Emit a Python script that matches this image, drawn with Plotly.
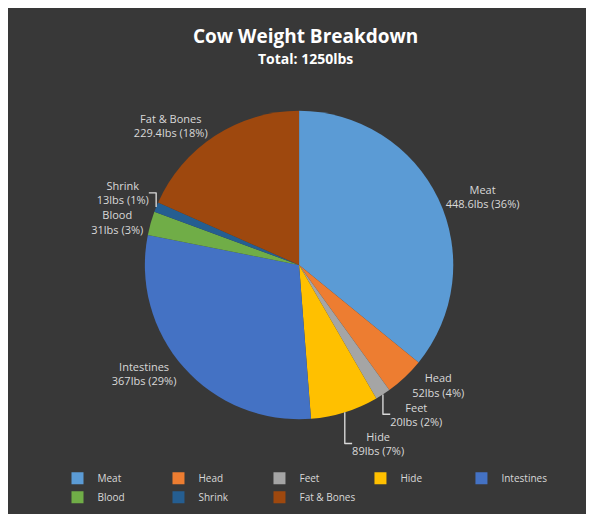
import plotly.graph_objects as go

labels = ["Meat", "Head", "Feet", "Hide", "Intestines", "Blood", "Shrink", "Fat & Bones"]
values = [448.6, 52, 20, 89, 367, 31, 13, 229.4]
weight_text = ["448.6lbs", "52lbs", "20lbs", "89lbs", "367lbs", "31lbs", "13lbs", "229.4lbs"]
percent_text = ["36%", "4%", "2%", "7%", "29%", "3%", "1%", "18%"]
colors = ["#5b9bd5", "#ed7d31", "#a5a5a5", "#ffc000", "#4472c4", "#70ad47", "#255e91", "#9e480e"]

fig = go.Figure(go.Pie(
    labels=labels, values=values, customdata=list(zip(weight_text, percent_text)),
    sort=False, direction="clockwise", rotation=0,
    marker=dict(colors=colors, line=dict(color="#3a3a3a", width=0)),
    texttemplate="%{label}<br>%{customdata[0]} (%{customdata[1]})",
    textposition="outside",
    textfont=dict(color="#d9d9d9", size=11, family="Open Sans"),
    domain=dict(x=[0.2, 0.78], y=[0.2, 0.8]),
    hoverinfo="label+value",
))
fig.update_layout(
    width=594, height=514,
    paper_bgcolor="#383838", plot_bgcolor="#383838",
    margin=dict(l=0, r=0, t=0, b=0),
    annotations=[
        dict(text="<b>Cow Weight Breakdown</b>", x=0.5, y=0.975, xref="paper", yref="paper",
             xanchor="center", yanchor="top", showarrow=False,
             font=dict(color="white", size=19, family="Open Sans")),
        dict(text="<b>Total: 1250lbs</b>", x=0.5, y=0.925, xref="paper", yref="paper",
             xanchor="center", yanchor="top", showarrow=False,
             font=dict(color="white", size=14, family="Open Sans")),
    ],
    legend=dict(orientation="h", x=0.5, xanchor="center", y=0.02, yanchor="bottom",
                itemwidth=30, entrywidth=0,
                font=dict(color="#d9d9d9", size=10, family="Open Sans"), traceorder="normal"),
)
fig.write_html("out.html")
